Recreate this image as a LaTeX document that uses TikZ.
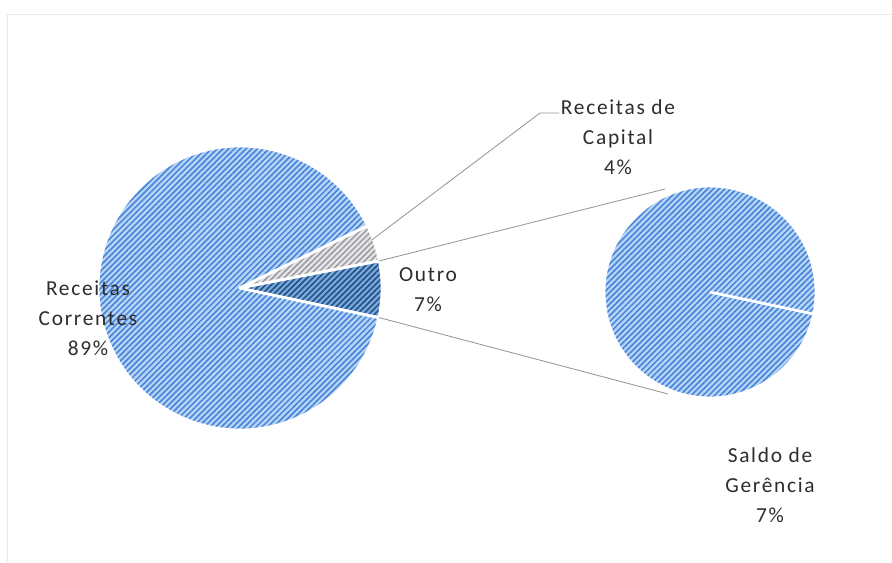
\documentclass[tikz,border=0pt]{standalone}
\usepackage{fontspec}
\setmainfont{Carlito}
\newfontfamily\lblfont[LetterSpace=8]{Carlito}
\usetikzlibrary{patterns.meta}
\definecolor{corLight}{RGB}{182,212,246}
\definecolor{corDark}{RGB}{70,130,215}
\definecolor{capLight}{RGB}{230,230,232}
\definecolor{capDark}{RGB}{155,155,160}
\definecolor{outLight}{RGB}{120,168,220}
\definecolor{outDark}{RGB}{35,78,130}
\definecolor{txtGray}{RGB}{45,45,45}
\definecolor{lineGray}{RGB}{150,150,150}
\begin{document}
\begin{tikzpicture}[x=0.025cm, y=0.025cm,
    slice/.style={draw=white, line width=2pt, line join=round},
    hatchCor/.style={slice, preaction={fill=corLight}, pattern={Lines[angle=45,distance=2.9pt,line width=1.1pt]}, pattern color=corDark},
    hatchCap/.style={slice, preaction={fill=capLight}, pattern={Lines[angle=45,distance=2.9pt,line width=1.1pt]}, pattern color=capDark},
    hatchOut/.style={slice, preaction={fill=outLight}, pattern={Lines[angle=45,distance=2.9pt,line width=1.1pt]}, pattern color=outDark},
    lbltext/.style={align=center, font=\lblfont\fontsize{15.2}{21.3}\selectfont, text=txtGray, inner sep=1pt},
    conn/.style={draw=lineGray, line width=0.6pt}
]
\useasboundingbox (0,0) rectangle (892,562);
% moldura
\draw[black!8, line width=0.6pt] (7,0) -- (7,548) -- (892,548);

% Pizza principal
\coordinate (mc) at (240,274);
\path[hatchCor] (mc) -- ++(26:142) arc[start angle=26, end angle=348, radius=142] -- cycle;
\path[hatchCap] (mc) -- ++(11:142) arc[start angle=11, end angle=26, radius=142] -- cycle;
\path[hatchOut] (mc) -- ++(-12:142) arc[start angle=-12, end angle=11, radius=142] -- cycle;

% Pizza secundaria
\coordinate (sc) at (710,270);
\path[hatchCor] (sc) circle[radius=106];
\draw[white, line width=2pt] (sc) -- ++(-12:106);

% Ligacoes
\path (mc) ++(11:142) coordinate (outTop);
\path (mc) ++(-12:142) coordinate (outBot);
\coordinate (smTop) at (665,373);
\coordinate (smBot) at (668,168);
\draw[conn] (outTop) -- (smTop);
\draw[conn] (outBot) -- (smBot);

% Rotulos
\node[lbltext] (lblCorrentes) at (88,244) {Receitas\\Correntes\\89\%};
\node[lbltext] (lblCapital) at (618,425) {Receitas de\\Capital\\4\%};
\node[lbltext] (lblOutro) at (428,272) {Outro\\7\%};
\node[lbltext] (lblSaldo) at (770,77) {Saldo de\\Gerência\\7\%};

\path (mc) ++(20:140) coordinate (capA);
\coordinate (capB) at (540,449);
\draw[conn] (capA) -- (capB) -- (capB -| lblCapital.west);
\end{tikzpicture}
\end{document}
